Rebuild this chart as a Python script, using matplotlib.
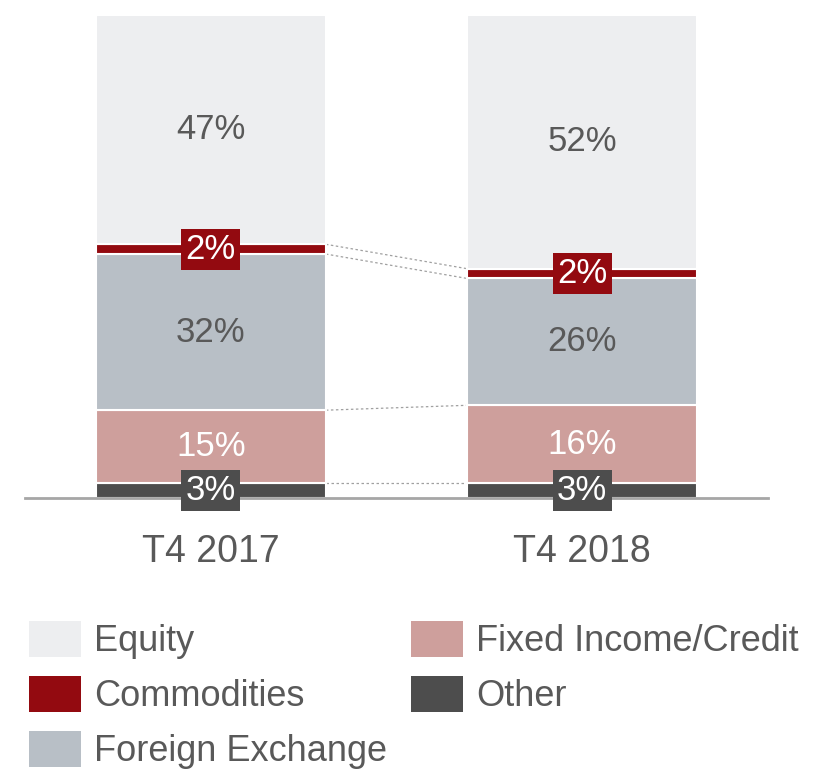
import matplotlib
matplotlib.use('Agg')
import matplotlib.pyplot as plt
from matplotlib.patches import Patch
import numpy as np

# data
periods = ['T4 2017', 'T4 2018']
segments = ['Other', 'Fixed Income/Credit', 'Foreign Exchange', 'Commodities', 'Equity']
values = {
    'Other': [3, 3],
    'Fixed Income/Credit': [15, 16],
    'Foreign Exchange': [32, 26],
    'Commodities': [2, 2],
    'Equity': [47, 52],
}
colors = {
    'Equity': '#EDEEF0',
    'Commodities': '#930A10',
    'Foreign Exchange': '#B8BFC6',
    'Fixed Income/Credit': '#CE9F9C',
    'Other': '#4D4D4D',
}
legend_order = ['Equity', 'Commodities', 'Foreign Exchange', 'Fixed Income/Credit', 'Other']

TXT = '#595959'
plt.rcParams['font.family'] = ['Liberation Sans', 'DejaVu Sans']

fig = plt.figure(figsize=(8.21, 7.69), dpi=100)
ax = fig.add_axes([25 / 821, (769 - 498) / 769, 743 / 821, 483 / 769])

x = np.arange(len(periods))
width = 0.62
bottom = np.zeros(len(periods))
tops = {}
for seg in segments:
    v = np.array(values[seg], dtype=float)
    ax.bar(x, v, width, bottom=bottom, color=colors[seg], edgecolor='white', linewidth=1.5, zorder=2)
    for i in range(len(periods)):
        c = bottom[i] + v[i] / 2
        lab = f'{int(v[i])}%'
        if seg in ('Commodities', 'Other'):
            # small values get a boxed label in the segment colour
            ax.text(x[i], c, lab, ha='center', va='center', color='white', fontsize=25,
                    zorder=4, bbox=dict(boxstyle='square,pad=0.12', fc=colors[seg], ec='none'))
        elif seg == 'Fixed Income/Credit':
            ax.text(x[i], c, lab, ha='center', va='center', color='white', fontsize=25, zorder=3)
        else:
            ax.text(x[i], c, lab, ha='center', va='center', color=TXT, fontsize=25, zorder=3)
    bottom = bottom + v
    tops[seg] = bottom.copy()

# dotted connectors between the bars
for seg in ['Other', 'Fixed Income/Credit', 'Foreign Exchange', 'Commodities']:
    ax.plot([x[0] + width / 2, x[1] - width / 2], [tops[seg][0], tops[seg][1]],
            ls=(0, (2, 2)), color='#A0A0A0', lw=0.9, zorder=1)

ax.set_xlim(-0.5, 1.5)
ax.set_ylim(0, 99)
for s in ['top', 'right', 'left']:
    ax.spines[s].set_visible(False)
ax.spines['bottom'].set_color('#A6A6A6')
ax.spines['bottom'].set_linewidth(2)
ax.set_yticks([])
ax.set_xticks(x)
ax.set_xticklabels(periods, fontsize=27, color=TXT)
ax.tick_params(axis='x', length=0, pad=26)

handles = [Patch(facecolor=colors[s], edgecolor='none') for s in legend_order]
fig.legend(handles, legend_order, ncol=2, loc='upper left',
           bbox_to_anchor=(29 / 821, (769 - 621) / 769), frameon=False,
           fontsize=26, labelcolor=TXT, handlelength=1.44, handleheight=1.15,
           handletextpad=0.36, columnspacing=0.66, labelspacing=0.47,
           borderpad=0, borderaxespad=0)

fig.savefig('out.png', dpi=100)
